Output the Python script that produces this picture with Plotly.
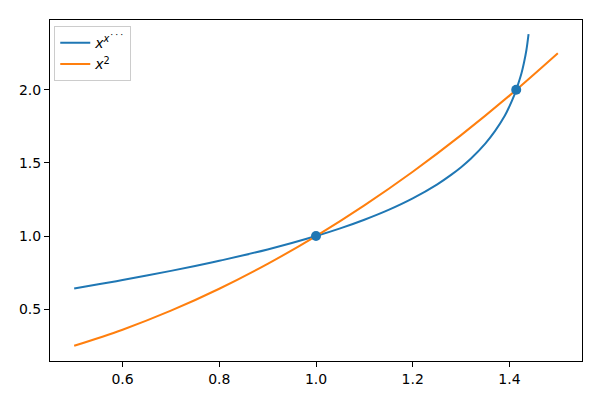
import plotly.graph_objects as go

# power tower x^x^x...
tower_x = [0.5, 0.55, 0.6, 0.65, 0.7, 0.75, 0.8, 0.85, 0.9, 0.95, 1.0, 1.05, 1.1, 1.15,
           1.2, 1.25, 1.28, 1.3, 1.32, 1.35, 1.37, 1.39, 1.4, 1.41, 1.414, 1.425, 1.43,
           1.435, 1.4395]
tower_y = [0.641, 0.670, 0.6995, 0.730, 0.762, 0.7954, 0.8308, 0.8684, 0.9087, 0.9523,
           1.0, 1.0527, 1.1118, 1.179, 1.2577, 1.352, 1.42, 1.471, 1.5285, 1.632, 1.717,
           1.82, 1.887, 1.963, 2.0, 2.115, 2.185, 2.27, 2.38]

# x^2 (orange)
sq_x = [0.5, 0.6, 0.7, 0.8, 0.9, 1.0, 1.1, 1.2, 1.3, 1.4, 1.5]
sq_y = [0.25, 0.36, 0.49, 0.64, 0.81, 1.0, 1.21, 1.44, 1.69, 1.96, 2.25]

# intersection points
pts_x = [1.0, 1.414]
pts_y = [1.0, 2.0]

blue = '#1f77b4'
orange = '#ff7f0e'

fig = go.Figure()
fig.add_trace(go.Scatter(x=tower_x, y=tower_y, mode='lines', line=dict(color=blue, width=2, shape='spline'),
                         name='<i>x</i><sup><i>x</i>˙˙˙</sup>'))
fig.add_trace(go.Scatter(x=sq_x, y=sq_y, mode='lines', line=dict(color=orange, width=2, shape='spline'),
                         name='<i>x</i><sup>2</sup>'))
fig.add_trace(go.Scatter(x=pts_x, y=pts_y, mode='markers', marker=dict(color=blue, size=10),
                         showlegend=False))

axis = dict(showgrid=False, zeroline=False, showline=True, linecolor='black', linewidth=1,
            mirror=True, ticks='outside', ticklen=5, tickcolor='black',
            tickfont=dict(family='DejaVu Sans', size=14, color='black'))

# page body has an 8px margin, so the figure is a bit smaller than the window
fig.update_layout(
    width=592, height=392,
    margin=dict(l=39, r=18, t=11, b=39),
    plot_bgcolor='white', paper_bgcolor='white',
    font=dict(family='DejaVu Sans', size=14, color='black'),
    xaxis=dict(axis, range=[0.45, 1.55], tickvals=[0.6, 0.8, 1.0, 1.2, 1.4], tickformat='.1f'),
    yaxis=dict(axis, range=[0.146, 2.477], tickvals=[0.5, 1.0, 1.5, 2.0], tickformat='.1f'),
    legend=dict(x=0.008, y=0.982, xanchor='left', yanchor='top', bgcolor='white',
                bordercolor='#cccccc', borderwidth=1, font=dict(size=14)),
)

fig.write_html("out.html")
